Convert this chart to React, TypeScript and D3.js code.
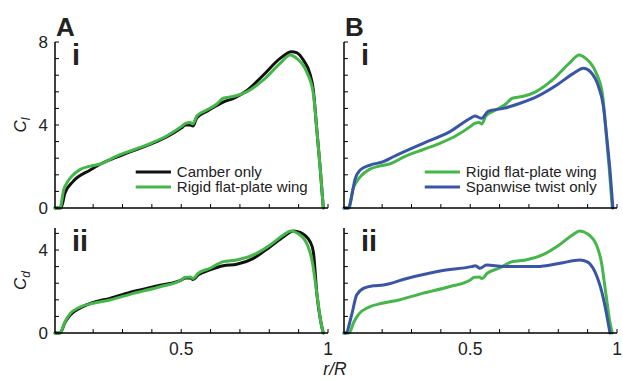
import React from "react";
import * as d3 from "d3";

// r/R positions and values
const greenClR = [0.07, 0.087, 0.1, 0.11, 0.125, 0.155, 0.19, 0.225, 0.28, 0.34, 0.4, 0.45, 0.5, 0.515, 0.53, 0.54, 0.553, 0.587, 0.62, 0.643, 0.677, 0.723, 0.78, 0.837, 0.871, 0.893, 0.927, 0.95, 0.961, 0.973, 0.984];
const greenClV = [0, 0, 0.9, 1.2, 1.5, 1.85, 2.02, 2.12, 2.5, 2.82, 3.14, 3.47, 3.92, 4.08, 4.12, 4.05, 4.43, 4.72, 5.0, 5.29, 5.37, 5.6, 6.17, 6.97, 7.37, 7.21, 6.57, 5.53, 3.92, 1.99, 0];

const blackClR = [0.07, 0.09, 0.104, 0.131, 0.19, 0.234, 0.28, 0.34, 0.4, 0.45, 0.5, 0.515, 0.53, 0.54, 0.553, 0.59, 0.643, 0.68, 0.723, 0.78, 0.837, 0.876, 0.893, 0.916, 0.938, 0.95, 0.961, 0.973, 0.984];
const blackClV = [0, 0, 0.72, 1.27, 1.83, 2.18, 2.45, 2.78, 3.1, 3.42, 3.85, 4.0, 4.0, 3.95, 4.35, 4.68, 5.1, 5.3, 5.65, 6.41, 7.21, 7.53, 7.49, 7.13, 6.49, 5.69, 3.92, 1.99, 0];

const blueClR = [0.07, 0.085, 0.096, 0.107, 0.125, 0.159, 0.204, 0.238, 0.34, 0.431, 0.5, 0.516, 0.539, 0.562, 0.613, 0.67, 0.727, 0.795, 0.852, 0.886, 0.909, 0.937, 0.954, 0.966, 0.977, 0.986];
const blueClV = [0, 0, 0.55, 1.35, 1.83, 2.07, 2.23, 2.47, 3.12, 3.68, 4.32, 4.43, 4.32, 4.67, 4.8, 5.05, 5.37, 5.93, 6.49, 6.73, 6.57, 5.85, 4.88, 3.28, 1.67, 0];

const greenCdR = [0.07, 0.087, 0.104, 0.121, 0.155, 0.2, 0.257, 0.337, 0.428, 0.5, 0.513, 0.53, 0.54, 0.558, 0.598, 0.643, 0.689, 0.746, 0.803, 0.848, 0.873, 0.897, 0.93, 0.947, 0.962, 0.976, 0.984];
const greenCdV = [0, 0, 0.54, 0.92, 1.25, 1.43, 1.59, 1.91, 2.23, 2.55, 2.68, 2.7, 2.63, 2.88, 3.12, 3.44, 3.52, 3.76, 4.24, 4.72, 4.92, 4.8, 4.24, 3.4, 1.9, 0.5, 0];

const blackCdR = [0.07, 0.087, 0.104, 0.121, 0.155, 0.2, 0.257, 0.337, 0.428, 0.5, 0.513, 0.53, 0.54, 0.558, 0.6, 0.643, 0.689, 0.746, 0.803, 0.85, 0.882, 0.905, 0.939, 0.95, 0.962, 0.976, 0.984];
const blackCdV = [0, 0, 0.5, 0.85, 1.2, 1.47, 1.67, 2.0, 2.3, 2.55, 2.65, 2.66, 2.58, 2.8, 3.05, 3.24, 3.31, 3.6, 4.16, 4.65, 4.92, 4.85, 4.4, 3.92, 1.9, 0.5, 0];

const blueCdR = [0.07, 0.076, 0.096, 0.113, 0.136, 0.17, 0.204, 0.284, 0.397, 0.505, 0.518, 0.533, 0.556, 0.613, 0.727, 0.806, 0.874, 0.897, 0.925, 0.948, 0.965, 0.976];
const blueCdV = [0, 0, 0.87, 1.83, 2.15, 2.28, 2.31, 2.63, 2.99, 3.2, 3.24, 3.12, 3.28, 3.2, 3.2, 3.36, 3.52, 3.44, 2.95, 1.99, 0.87, 0];

const xTicks = [0.2, 0.3, 0.4, 0.5, 0.6, 0.7, 0.8, 0.9, 1.0];
const xTickLabels = ["0.5", "1"];
const clTicks = [0, 0.8, 1.6, 2.4, 3.2, 4, 4.8, 5.6, 6.4, 7.2, 8];
const cdTicks = [0, 0.8, 1.6, 2.4, 3.2, 4, 4.8];
const yTickLabels = ["0", "4", "8"];

const legendA = ["Camber only", "Rigid flat-plate wing"];
const legendB = ["Rigid flat-plate wing", "Spanwise twist only"];

const BLACK = "#111111";
const GREEN = "#45b649";
const BLUE = "#3a55a6";
const FONT = "'Liberation Sans', Arial, Helvetica, sans-serif";

const zip = (r: number[], v: number[]) => r.map((x, i) => [x, v[i]] as [number, number]);

type Series = { r: number[]; v: number[]; color: string };

function Panel({
  x0, x1, yTop, yBottom, yMax, yTicks, series, numeral, letter, showYLabels, ylab, legend, legendColors, showXLabels,
}: {
  x0: number; x1: number; yTop: number; yBottom: number; yMax: number; yTicks: number[];
  series: Series[]; numeral: string; letter?: string; showYLabels: boolean; ylab?: string;
  legend?: string[]; legendColors?: string[]; showXLabels: boolean;
}) {
  const x = d3.scaleLinear().domain([0.07, 1]).range([x0, x1]);
  const y = d3.scaleLinear().domain([0, yMax]).range([yBottom, yTop]);
  const line = d3.line<[number, number]>().x((d) => x(d[0])).y((d) => y(d[1])).curve(d3.curveMonotoneX);
  return (
    <g>
      {series.map((s, i) => (
        <path key={i} d={line(zip(s.r, s.v)) || ""} fill="none" stroke={s.color} strokeWidth={3} strokeLinejoin="round" strokeLinecap="round" />
      ))}
      <line x1={x0} x2={x0} y1={yTop} y2={yBottom} stroke="#000" strokeWidth={1.5} />
      <line x1={x0} x2={x1} y1={yBottom} y2={yBottom} stroke="#000" strokeWidth={1.5} />
      {yTicks.map((t, i) => (
        <line key={i} x1={x0} x2={x0 + 4} y1={y(t)} y2={y(t)} stroke="#000" strokeWidth={1} />
      ))}
      {xTicks.map((t, i) => (
        <line key={i} x1={x(t)} x2={x(t)} y1={yBottom} y2={yBottom - 4} stroke="#000" strokeWidth={1} />
      ))}
      {showYLabels &&
        yTickLabels
          .map((l) => +l)
          .filter((v) => v <= yMax)
          .map((v, i) => (
            <text key={i} x={x0 - 7} y={y(v)} dy="0.36em" textAnchor="end" fontSize={17} fontFamily={FONT} fill="#222">
              {String(v)}
            </text>
          ))}
      {showXLabels &&
        xTickLabels.map((l, i) => (
          <text key={i} x={x(+l)} y={yBottom + 22} textAnchor="middle" fontSize={17.5} fontFamily={FONT} fill="#222">
            {l}
          </text>
        ))}
      {ylab && (
        <text transform={`translate(${x0 - 29},${(yTop + yBottom) / 2}) rotate(-90)`} textAnchor="middle" fontSize={17} fontFamily={FONT} fontStyle="italic" fill="#222">
          C<tspan fontSize={12} dy={4}>{ylab}</tspan>
        </text>
      )}
      {letter && (
        <text x={x0 + 1} y={36} fontSize={26} fontWeight="bold" fontFamily={FONT} fill="#222">
          {letter}
        </text>
      )}
      <text x={x0 + 17} y={yTop + 23} fontSize={29} fontWeight="bold" fontFamily={FONT} fill="#222">
        {numeral}
      </text>
      {legend &&
        legend.map((l, i) => (
          <g key={i}>
            <line x1={x(0.345)} x2={x(0.465)} y1={172 + i * 15} y2={172 + i * 15} stroke={legendColors![i]} strokeWidth={3} />
            <text x={x(0.485)} y={172 + i * 15} dy="0.36em" fontSize={15} fontFamily={FONT} fill="#222">
              {l}
            </text>
          </g>
        ))}
    </g>
  );
}

export default function App() {
  const W = 623, H = 381;
  const topY = 42, topB = 208, botY = 228, botB = 333;
  const ax0 = 55, ax1 = 328, bx0 = 344, bx1 = 617;
  const cdMax = (botB - botY) / ((topB - topY) / 8);
  return (
    <svg width={W} height={H} style={{ position: "absolute", left: 0, top: 0, background: "#fff" }}>
      <Panel x0={ax0} x1={ax1} yTop={topY} yBottom={topB} yMax={8} yTicks={clTicks}
        series={[{ r: blackClR, v: blackClV, color: BLACK }, { r: greenClR, v: greenClV, color: GREEN }]}
        numeral="i" letter="A" showYLabels ylab="l" legend={legendA} legendColors={[BLACK, GREEN]} showXLabels={false} />
      <Panel x0={bx0} x1={bx1} yTop={topY} yBottom={topB} yMax={8} yTicks={clTicks}
        series={[{ r: greenClR, v: greenClV, color: GREEN }, { r: blueClR, v: blueClV, color: BLUE }]}
        numeral="i" letter="B" showYLabels={false} legend={legendB} legendColors={[GREEN, BLUE]} showXLabels={false} />
      <Panel x0={ax0} x1={ax1} yTop={botY} yBottom={botB} yMax={cdMax} yTicks={cdTicks}
        series={[{ r: blackCdR, v: blackCdV, color: BLACK }, { r: greenCdR, v: greenCdV, color: GREEN }]}
        numeral="ii" showYLabels ylab="d" showXLabels />
      <Panel x0={bx0} x1={bx1} yTop={botY} yBottom={botB} yMax={cdMax} yTicks={cdTicks}
        series={[{ r: greenCdR, v: greenCdV, color: GREEN }, { r: blueCdR, v: blueCdV, color: BLUE }]}
        numeral="ii" showYLabels={false} showXLabels />
      <text x={335} y={375} textAnchor="middle" fontSize={17.5} fontFamily={FONT} fontStyle="italic" fill="#222">
        r/R
      </text>
    </svg>
  );
}
